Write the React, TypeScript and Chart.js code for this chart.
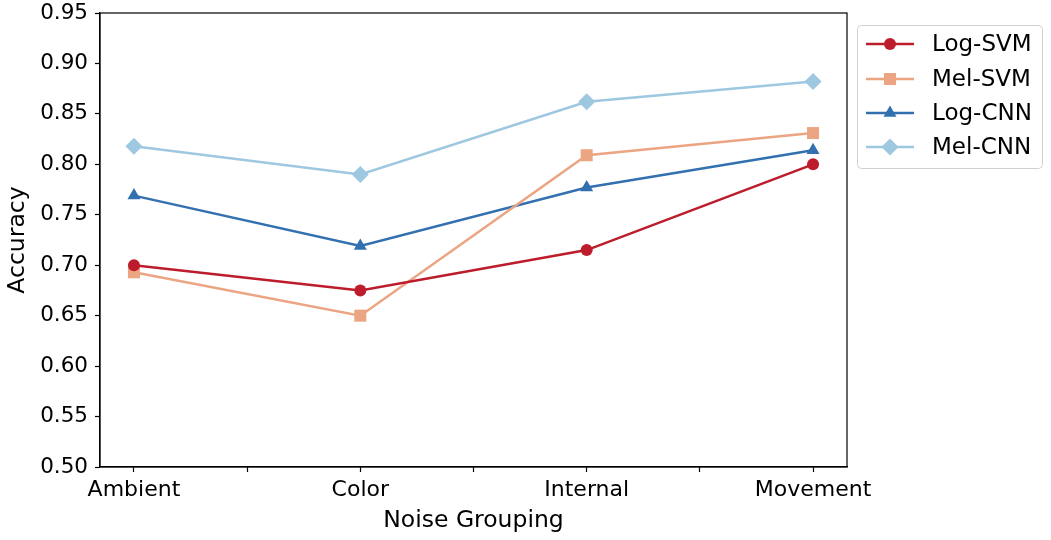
import React, { useEffect, useRef } from "react";
import { Chart, registerables } from "chart.js";

Chart.register(...registerables);

const categories = ["Ambient", "Color", "Internal", "Movement"];
const seriesNames = ["Log-SVM", "Mel-SVM", "Log-CNN", "Mel-CNN"];
const logSvm = [0.7, 0.675, 0.715, 0.8];
const melSvm = [0.693, 0.65, 0.809, 0.831];
const logCnn = [0.769, 0.719, 0.777, 0.814];
const melCnn = [0.818, 0.79, 0.862, 0.882];
const yTicks = [0.5, 0.55, 0.6, 0.65, 0.7, 0.75, 0.8, 0.85, 0.9, 0.95];
const xTickPositions = [0, 0.5, 1, 1.5, 2, 2.5, 3];

const colors = ["#bd1c2c", "#eba583", "#3370b0", "#9ec7e0"];
const markers = ["circle", "rect", "triangle", "rectRot"];
const radii = [6, 8.5, 7.5, 8.5];
const FONT = "'DejaVu Sans', sans-serif";

function drawMarker(ctx: CanvasRenderingContext2D, type: string, x: number, y: number, r: number) {
  ctx.beginPath();
  if (type === "circle") {
    ctx.arc(x, y, r, 0, Math.PI * 2);
  } else if (type === "rect") {
    const s = r * Math.SQRT1_2;
    ctx.rect(x - s, y - s, 2 * s, 2 * s);
  } else if (type === "triangle") {
    for (let i = 0; i < 3; i++) {
      const a = (i * 2 * Math.PI) / 3;
      const px = x + Math.sin(a) * r;
      const py = y - Math.cos(a) * r;
      if (i === 0) ctx.moveTo(px, py);
      else ctx.lineTo(px, py);
    }
    ctx.closePath();
  } else {
    ctx.moveTo(x - r, y);
    ctx.lineTo(x, y - r);
    ctx.lineTo(x + r, y);
    ctx.lineTo(x, y + r);
    ctx.closePath();
  }
  ctx.fill();
}

const framePlugin = {
  id: "frame",
  afterDraw(chart: any) {
    const { ctx, chartArea } = chart;
    ctx.save();
    ctx.strokeStyle = "#000";
    ctx.lineWidth = 1.2;
    ctx.strokeRect(chartArea.left, chartArea.top, chartArea.right - chartArea.left, chartArea.bottom - chartArea.top);

    // legend
    const bx = 857.5, by = 25.5, bw = 185, bh = 143, rr = 4;
    ctx.beginPath();
    ctx.moveTo(bx + rr, by);
    ctx.lineTo(bx + bw - rr, by);
    ctx.arcTo(bx + bw, by, bx + bw, by + rr, rr);
    ctx.lineTo(bx + bw, by + bh - rr);
    ctx.arcTo(bx + bw, by + bh, bx + bw - rr, by + bh, rr);
    ctx.lineTo(bx + rr, by + bh);
    ctx.arcTo(bx, by + bh, bx, by + bh - rr, rr);
    ctx.lineTo(bx, by + rr);
    ctx.arcTo(bx, by, bx + rr, by, rr);
    ctx.closePath();
    ctx.fillStyle = "rgba(255,255,255,0.85)";
    ctx.fill();
    ctx.strokeStyle = "#d0d0d0";
    ctx.lineWidth = 1;
    ctx.stroke();

    const rowY = [44, 79, 113, 147];
    chart.data.datasets.forEach((ds: any, i: number) => {
      const y = rowY[i];
      ctx.strokeStyle = ds.borderColor;
      ctx.lineWidth = 2.5;
      ctx.beginPath();
      ctx.moveTo(866, y);
      ctx.lineTo(914, y);
      ctx.stroke();
      ctx.fillStyle = ds.borderColor;
      drawMarker(ctx, markers[i], 890, y, radii[i]);
      ctx.fillStyle = "#000";
      ctx.font = `23px ${FONT}`;
      ctx.textAlign = "left";
      ctx.textBaseline = "middle";
      ctx.fillText(ds.label, 932, y + 1);
    });
    ctx.restore();
  },
};

export default function App() {
  const ref = useRef<HTMLCanvasElement | null>(null);
  useEffect(() => {
    if (!ref.current) return;
    const seriesValues = [logSvm, melSvm, logCnn, melCnn];
    const chart = new Chart(ref.current, {
      type: "line",
      data: {
        datasets: seriesNames.map((name, i) => ({
          label: name,
          data: seriesValues[i].map((v, j) => ({ x: j, y: v })),
          borderColor: colors[i],
          backgroundColor: colors[i],
          borderWidth: 2.5,
          pointStyle: markers[i] as any,
          pointRadius: radii[i],
          pointBorderWidth: 0,
          pointHoverRadius: radii[i],
          fill: false,
          tension: 0,
        })),
      },
      options: {
        responsive: false,
        animation: false,
        layout: { padding: { left: 0, right: 204, top: 13, bottom: 0 } },
        plugins: { legend: { display: false }, tooltip: { enabled: false } },
        scales: {
          x: {
            type: "linear",
            min: -0.15,
            max: 3.15,
            afterBuildTicks: (scale: any) => {
              scale.ticks = xTickPositions.map((v) => ({ value: v }));
            },
            afterFit: (scale: any) => {
              scale.height = 73;
              scale.paddingLeft = 0;
              scale.paddingRight = 0;
            },
            ticks: {
              color: "#000",
              font: { size: 22, family: FONT },
              padding: 5,
              maxRotation: 0,
              autoSkip: false,
              callback: (v: any) => (Number.isInteger(v) ? categories[v] : ""),
            },
            grid: { drawOnChartArea: false, drawTicks: true, tickLength: 5, tickColor: "#000", tickWidth: 1.2 },
            border: { display: true, color: "#000", width: 1.2 },
            title: {
              display: true,
              text: "Noise Grouping",
              color: "#000",
              font: { size: 23.5, family: FONT },
              padding: { top: 0, bottom: 5 },
            },
          },
          y: {
            min: 0.5,
            max: 0.95,
            afterBuildTicks: (scale: any) => {
              scale.ticks = yTicks.map((v) => ({ value: v }));
            },
            afterFit: (scale: any) => {
              scale.width = 100;
              scale.paddingTop = 0;
              scale.paddingBottom = 0;
            },
            ticks: {
              color: "#000",
              font: { size: 21.5, family: FONT },
              padding: 7,
              callback: (v: any) => Number(v).toFixed(2),
            },
            grid: { drawOnChartArea: false, drawTicks: true, tickLength: 5, tickColor: "#000", tickWidth: 1.2 },
            border: { display: true, color: "#000", width: 1.2 },
            title: {
              display: true,
              text: "Accuracy",
              color: "#000",
              font: { size: 23.5, family: FONT },
              padding: { top: 4, bottom: 0 },
            },
          },
        },
      },
      plugins: [framePlugin],
    });
    return () => chart.destroy();
  }, []);
  return (
    <div style={{ position: "fixed", left: 0, top: 0, width: 1051, height: 540, background: "#fff" }}>
      <canvas ref={ref} width={1051} height={540} />
    </div>
  );
}
